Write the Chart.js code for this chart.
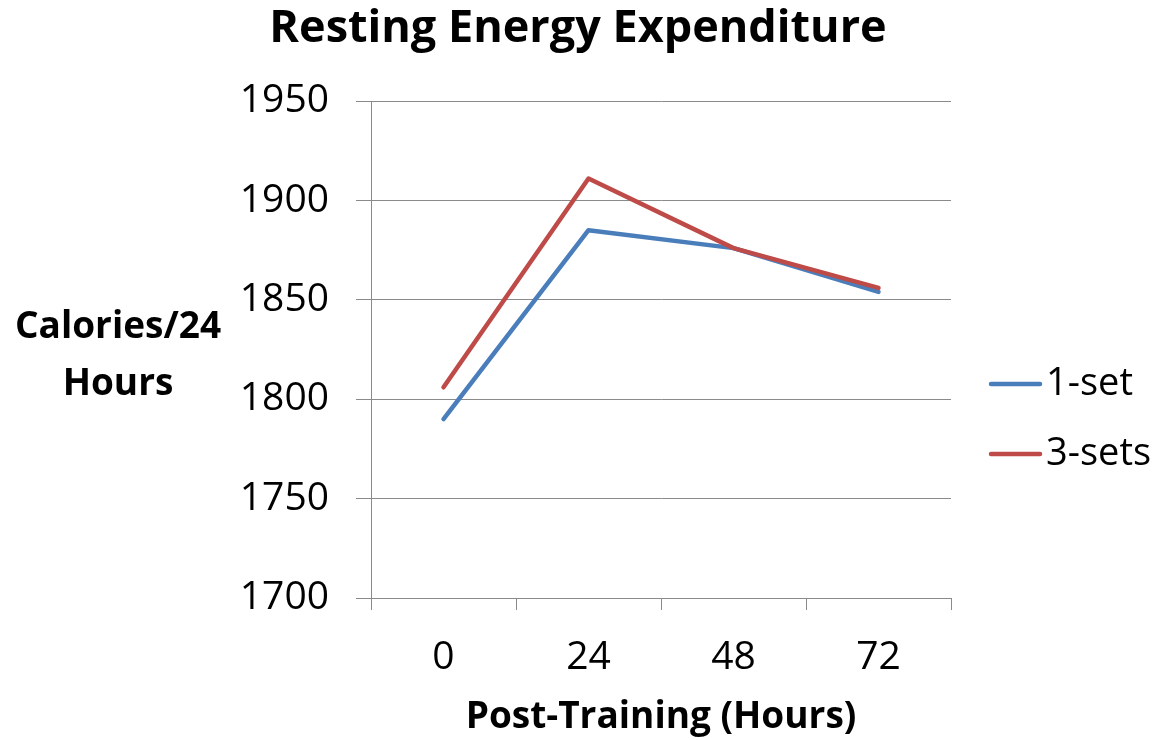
<!DOCTYPE html>
<html>
<head>
<meta charset="utf-8">
<script src="https://cdn.jsdelivr.net/npm/chart.js@4/dist/chart.umd.min.js"></script>
<style>
  html, body { margin: 0; padding: 0; background: #ffffff; }
  #wrap { width: 1160px; height: 740px; position: relative; }
</style>
</head>
<body>
<div id="wrap"><canvas id="c" width="1160" height="740"></canvas></div>
<script>
const chartTitle = 'Resting Energy Expenditure';
const xAxisTitle = 'Post-Training (Hours)';
const yAxisTitleLines = ['Calories/24', 'Hours'];
const categories = ['0', '24', '48', '72'];
const seriesNames = ['1-set', '3-sets'];
const oneSet = [1790, 1885, 1876, 1854];
const threeSets = [1806, 1911, 1876, 1856];
const yMin = 1700, yMax = 1950, yStep = 50;

const FONT = '"Open Sans", "Noto Sans", "DejaVu Sans", sans-serif';
const GRID = '#8a8a8a';
const BLUE = '#4a7ebb';
const RED = '#be4b48';

const yTitlePlugin = {
  id: 'yTitle',
  afterDraw(chart) {
    const ctx = chart.ctx;
    ctx.save();
    ctx.fillStyle = '#000';
    ctx.font = 'bold 37px ' + FONT;
    ctx.textAlign = 'center';
    ctx.textBaseline = 'middle';
    yAxisTitleLines.forEach((t, i) => ctx.fillText(t, 118, 327 + i * 57));
    ctx.restore();
  }
};

const legendPlugin = {
  id: 'customLegend',
  afterDraw(chart) {
    const ctx = chart.ctx;
    ctx.save();
    chart.data.datasets.forEach((ds, i) => {
      const y = 384 + i * 70;
      ctx.strokeStyle = ds.borderColor;
      ctx.lineWidth = 4.5;
      ctx.lineCap = 'round';
      ctx.beginPath();
      ctx.moveTo(991, y);
      ctx.lineTo(1040, y);
      ctx.stroke();
      ctx.fillStyle = '#000';
      ctx.font = '38px ' + FONT;
      ctx.textAlign = 'left';
      ctx.textBaseline = 'middle';
      ctx.fillText(ds.label, 1046, y);
    });
    ctx.restore();
  }
};

new Chart(document.getElementById('c'), {
  type: 'line',
  data: {
    labels: categories,
    datasets: [
      { label: seriesNames[0], data: oneSet, borderColor: BLUE, backgroundColor: BLUE, order: 1 },
      { label: seriesNames[1], data: threeSets, borderColor: RED, backgroundColor: RED, order: 0 }
    ]
  },
  options: {
    responsive: false,
    animation: false,
    devicePixelRatio: 1,
    layout: { padding: { left: 205, right: 209, top: 0, bottom: 0 } },
    elements: {
      line: { borderWidth: 4.5, tension: 0, borderCapStyle: 'round', borderJoinStyle: 'round' },
      point: { radius: 0, hoverRadius: 0 }
    },
    plugins: {
      legend: { display: false },
      tooltip: { enabled: false },
      title: {
        display: true,
        text: chartTitle,
        color: '#000',
        font: { family: FONT, size: 45, weight: 'bold', lineHeight: 1.2 },
        padding: { top: 2, bottom: 45 }
      }
    },
    scales: {
      x: {
        type: 'category',
        offset: true,
        afterFit(s) { s.height = 142; },
        grid: { display: true, offset: true, drawOnChartArea: false, drawTicks: true, tickLength: 12, color: GRID, lineWidth: 1 },
        border: { display: true, color: GRID, width: 1 },
        ticks: { color: '#000', font: { family: FONT, size: 39 }, padding: 24, maxRotation: 0 },
        title: { display: true, text: xAxisTitle, color: '#000', font: { family: FONT, size: 37, weight: 'bold', lineHeight: 1.2 }, padding: { top: 0, bottom: 0 } }
      },
      y: {
        min: yMin, max: yMax,
        afterFit(s) { s.width = 166; },
        grid: { display: true, drawOnChartArea: true, drawTicks: true, tickLength: 15, color: GRID, lineWidth: 1 },
        border: { display: true, color: GRID, width: 1 },
        ticks: { stepSize: yStep, color: '#000', font: { family: FONT, size: 39 }, padding: 27, callback: (v) => String(v) }
      }
    }
  },
  plugins: [yTitlePlugin, legendPlugin]
});
</script>
</body>
</html>
